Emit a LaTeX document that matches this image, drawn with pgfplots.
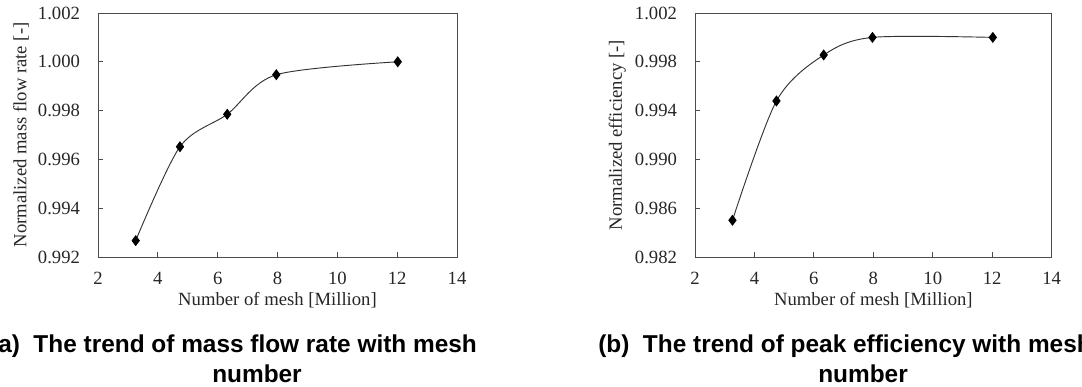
\documentclass[border=0pt]{standalone}
\usepackage{fontspec}
\setmainfont{Liberation Serif}
\newfontfamily\capfont{Liberation Sans}
\usepackage{pgfplots}
\pgfplotsset{compat=1.18}
\pgfplotsset{
  meshax/.style={
    scale only axis,
    xmin=2, xmax=14,
    xtick={2,4,...,14},
    axis line style={draw=black!70, line width=0.6pt},
    tick style={draw=black!70, line width=0.6pt},
    tick align=inside,
    xtick pos=bottom, ytick pos=left,
    major tick length=4pt,
    /pgf/number format/assume math mode=true,
    tick label style={font=\fontsize{14}{16}\selectfont, text=black!85},
    label style={font=\fontsize{14}{16}\selectfont, text=black!85},
    yticklabel style={/pgf/number format/fixed, /pgf/number format/precision=3, /pgf/number format/fixed zerofill, xshift=-10pt},
    xticklabel style={yshift=-8pt},
    xlabel={Number of mesh [Million]},
    xlabel style={yshift=1pt},
  },
  meshline/.style={color=black!80, line width=0.7pt, smooth, mark=diamond*, mark size=3.6pt, mark options={fill=black, draw=black, solid}},
}
\begin{document}
\begin{tikzpicture}
\useasboundingbox (0,0) rectangle (811.5pt,289.5pt);
\begin{axis}[meshax,
  at={(73.5pt,96.75pt)}, anchor=south west,
  width=269.25pt, height=183pt,
  ymin=0.992, ymax=1.002, ytick={0.992,0.994,...,1.0021},
  ylabel={Normalized mass flow rate [-]},
]
\addplot[meshline] coordinates {
(3.26,0.99267) (4.74,0.99652) (6.32,0.99785) (7.96,0.99947) (12.02,1.0000)
};
\end{axis}
\begin{axis}[meshax,
  at={(521.25pt,96.75pt)}, anchor=south west,
  width=267.5pt, height=183pt,
  ymin=0.982, ymax=1.002, ytick={0.982,0.986,...,1.0021},
  ylabel={Normalized efficiency [-]},
]
\addplot[meshline] coordinates {
(3.26,0.98501) (4.74,0.99479) (6.33,0.99856) (7.97,1.0000) (12.02,1.0000)
};
\end{axis}
\node[anchor=base west, inner sep=0pt, font=\capfont\bfseries\fontsize{18.3}{22}\selectfont] at (-7.6pt,25.5pt) {(a)\ \ The trend of mass flow rate with mesh};
\node[anchor=base, inner sep=0pt, font=\capfont\bfseries\fontsize{18.3}{22}\selectfont] at (192.75pt,3pt) {number};
\node[anchor=base west, inner sep=0pt, font=\capfont\bfseries\fontsize{18.3}{22}\selectfont] at (448.5pt,25.5pt) {(b)\ \ The trend of peak efficiency with mesh};
\node[anchor=base, inner sep=0pt, font=\capfont\bfseries\fontsize{18.3}{22}\selectfont] at (647.25pt,3pt) {number};
\end{tikzpicture}
\end{document}
